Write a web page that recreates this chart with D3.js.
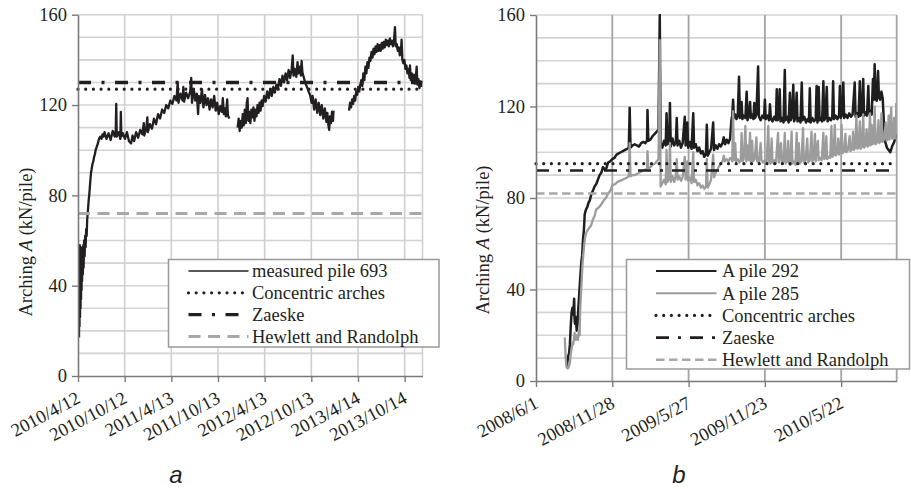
<!DOCTYPE html>
<html><head><meta charset="utf-8">
<script src="https://cdn.jsdelivr.net/npm/d3@7"></script>
<style>
body{margin:0;background:#fff}
svg{display:block}
svg text{font-family:"Liberation Serif","Times New Roman",serif;font-size:18.5px;fill:#231f20}
svg text.sub{font-family:"Liberation Sans",Arial,sans-serif;font-style:italic;font-size:24px}
</style>
</head><body>
<svg id="c" width="911" height="489"></svg>
<script>
// ---------------- DATA ----------------
const yTickValues = [0, 40, 80, 120, 160];

// panel a
const aDomain = ["2010-04-12", "2013-12-23"];
const aTickDates = ["2010-04-12","2010-10-12","2011-04-13","2011-10-13","2012-04-13","2012-10-13","2013-04-14","2013-10-14"];
const aTickLabels = ["2010/4/12","2010/10/12","2011/4/13","2011/10/13","2012/4/13","2012/10/13","2013/4/14","2013/10/14"];
const aSeriesNames = ["measured pile 693"];
const aRefNames = ["Concentric arches", "Zaeske", "Hewlett and Randolph"];
const aRefValues = [127, 130, 72];
// [days since 2010-04-12, arching kN/pile]
const pile693 = [
[4,17],[5,46],[6,22],[7,58],[8,26],[9,52],[10,30],[11,55],[12,34],[13,50],[14,38],[15,57],[16,42],[18,54],[19,45],[21,58],[22,48],[24,60],[26,53],[28,62],[30,57],[32,65],[34,62],[36,69],[38,72],[40,75],[42,78],[44,80],[46,83],[48,86],[51,90],[54,92],[57,94],[60,95],[63,97],[66,98],[69,100],[72,101],[75,102],[78,103],[81,104.5],[84,105.5],[88,106],[92,105],[96,107],[100,106],
[104,108],[112,105],[120,107.5],[128,104.5],[136,108.5],[144,106],[148,109],[150,120.5],[152,106],[160,108],[166,105],[168,117],[170,106],[176,107.5],
[184,105],[192,108],[200,104],[208,103],[214,106.5],[220,104],
[228,108],[236,105.5],[244,109],[252,107],[258,112],[260,106.5],[268,110],[272,114.5],[274,108],[282,111.5],[290,109.5],
[298,114],[306,111.5],[314,116],[322,114],[330,118],[338,116.5],[346,120],[354,118.5],[362,122],
[370,120.5],[378,124],[386,122],[391,130],[394,121],[402,125],[410,122],[413,128],[416,121.5],[424,125.5],[432,123],
[440,126],[444,132],[447,121],[454,127],[460,122],[466,125],[471,116],[474,124],[480,121],[486,127],
[492,119],[498,124.5],[504,120],[510,123],[516,118],[522,122.5],[528,119],[534,124],[540,117.5],
[546,121],[552,116],[558,119.5],[564,117],[568,123],[572,116],[576,118.5],[580,115],[585,122.5],[588,115.5],[593,114],[596,null],
[626,110],[630,114],[634,108.5],[638,113],[642,110],[646,116],[650,111],[654,118],[658,112],[662,121],[665,123],[668,113],[672,117],[676,112],[680,118],[684,114.5],
[688,119],[692,113],[696,118],[700,115],[704,120],[708,116.5],[712,121],[716,117.5],[720,122],[724,119.5],
[730,124],[736,121.5],[742,126],[748,123],[754,127],[760,124],[766,128],[772,125.5],[778,129],
[784,127],[790,131.5],[796,128.5],[802,133],[808,130],[814,134],[820,131],[826,135.5],[832,132],[838,136],[842,142],[845,133],
[850,136],[856,132.5],[861,139],[864,134],[870,137],[874,133],[877,139.5],[880,134.5],
[886,132],[892,129.5],[898,128],[904,126],[910,124.5],[916,121],
[920,124],[926,118],[932,122.5],[938,116.5],[944,121],[950,115.5],[956,120],[962,114],[968,118.5],[974,112.5],
[978,116.5],[982,111],[985,109],[988,115],[992,112],[996,117],[1000,113],[1002,117.5],[1005,null],
[1063,117.5],[1067,121],[1071,119],[1075,122.5],[1079,120.5],[1083,124],[1087,122],[1091,126],[1095,124.5],[1099,128],[1103,126],[1107,129],
[1111,131],[1115,128.5],[1119,134],[1123,131],[1127,137],[1131,134],[1135,139],[1139,136.5],[1143,141],
[1147,139.5],[1151,143.5],[1155,141],[1159,145],[1163,142.5],[1167,146],[1171,143.5],[1175,147],[1179,144],[1183,146.5],[1187,144],[1191,147.5],[1195,145],
[1199,148],[1203,145.5],[1207,149],[1211,146.5],[1215,148.5],[1219,146],[1223,149.5],[1227,147],[1231,148.5],[1235,146],[1239,148],[1243,154.5],[1246,146],[1250,147],
[1254,144],[1258,145.5],[1262,142],[1266,143],[1269,149],[1272,140],[1276,138.5],[1280,140],[1284,136],[1288,137.5],
[1292,134],[1296,136],[1300,132],[1302,137.5],[1305,131],[1309,134],[1313,130],[1317,133.5],[1321,129.5],[1325,132.5],[1328,137],[1331,129],[1335,131.5],[1339,127.5],[1343,130.5],[1347,128]
];

// panel b
const bDomain = ["2008-06-01", "2010-09-30"];
const bTickDates = ["2008-06-01","2008-11-28","2009-05-27","2009-11-23","2010-05-22"];
const bTickLabels = ["2008/6/1","2008/11/28","2009/5/27","2009/11/23","2010/5/22"];
const bSeriesNames = ["A pile 292", "A pile 285"];
const bRefNames = ["Concentric arches", "Zaeske", "Hewlett and Randolph"];
const bRefValues = [95, 92, 82];
// [days since 2008-06-01, arching kN/pile]
const pile292 = [
[71,9],[73,7],[76,11],[78,12],[80,16],[82,24],[84,30],[86,32],[88,29],[90,36],[91,27],[92,25],[94,28],[96,22],[98,25],[100,32],[102,38],[104,44],[107,52],[109,55],[111,62],[113,66],[115,73],[118,75],[121,76],[124,78],[127,79],[131,82],[134,83],[138,85],[142,86],[146,88],[150,90],[154,91],[158,93.5],[162,92.5],[166,93],[170,95.5],[175,96],[180,97],[185,97.5],[190,99],[195,99.5],[200,100],[205,100.5],[210,101],[215,101.5],[219,102],[221,119.5],[223,102],[228,103],[233,103.5],[238,103],[243,102.5],[248,104],[253,104.5],[258,104],[262,105],[263,118.5],[265,105],[270,105.5],[275,107],[280,108],[285,109],[289,110],[292,160],[294,104],
[298,102],[302,105],[306,103],[308,117],[310,103.5],[314,104],[316,121.5],[318,102.5],[322,106],[326,103],[330,104.5],[332,115],[334,103],[338,105],[342,102],[346,104],[351,115.5],[353,103],[357,113],[359,102],[363,104.5],[367,101.5],[371,117],[373,102],[377,103.5],[381,100.5],[385,102],[389,99.5],[393,100.5],[397,98],[401,99.5],[403,112],[405,98.5],[409,100],[413,101.5],[418,113],[420,101],[424,103],[428,101.5],[432,103.5],[436,102.5],[440,104],[443,106.5],[446,103.5],[450,105.5],[454,104],[458,106],
[461,114],[463,116],[465,123],[467,115],[470,116.5],[473,114.5],[476,116],[479,133],[481,115],[483,116.5],[485,122],[487,114.5],[490,116],[494,115],[497,126.5],[499,114],[502,116],[505,122],[507,115],[510,116.5],[513,114.5],[515,121.5],[517,115],[520,116.5],[524,137.5],[526,115.5],[530,114],[534,116],[538,115],[540,123],[542,114.5],[546,116],[550,114],[552,121],[554,115],[558,113.5],[562,115.5],[566,114],[568,127.5],[570,114],[573,115.5],[575,127.5],[577,113.5],[581,115],[584,113],[587,136],[589,114],[593,115.5],[596,113],[599,126],[601,114],[604,115.5],[607,129.5],[609,113.5],[612,115],[615,126],[617,113.5],[621,115],[624,113],[627,130.5],[629,114],[633,115.5],[637,113],[641,114.5],[644,113.5],[646,128],[648,113],[652,115],[656,113.5],[660,114.5],[662,129],[664,113],[667,128.5],[669,114],[673,115],[675,113.5],[678,131],[680,114],[683,115],[686,128.5],[688,113.5],[692,115],[696,114],[699,115.5],[701,131],[703,114.5],[707,116],[711,114.5],[715,116],[717,129],[719,115],[722,116.5],[725,130.5],[727,115],[731,116.5],[735,115],[739,117],[743,115.5],[747,116.5],[752,130.5],[754,115.5],[758,117],[761,115.5],[764,131],[766,116],[769,117.5],[772,132],[774,116],[778,117.5],[781,116],[784,129],[786,117],[789,118],[792,116.5],[795,132],[797,123],[799,138.5],[801,123.5],[804,122.5],[807,135.5],[809,124],[812,123],[815,126.5],[818,123.5],[821,112],[824,104.5],[828,102],[832,101],[836,100],[840,102.5],[845,104.5],[850,108]
];
const pile285 = [
[68,19],[70,10],[72,6],[75,5.5],[77,6],[80,8],[82,12],[84,14],[86,17],[88,16],[91,21],[94,18],[97,20],[99,18],[101,22],[103,20],[104,30],[106,38],[108,45],[110,52],[112,56],[114,60],[116,63],[119,65],[122,66],[126,67],[130,68],[134,70.5],[138,72],[142,75],[146,75.5],[150,76.3],[155,77.5],[160,79],[165,80],[170,82],[175,83],[180,85.5],[186,86],[192,87],[198,87.5],[204,88],[210,88.5],[215,89],[219,89.5],[221,104],[223,89.5],[228,90],[233,90],[238,90.5],[243,91],[248,91.5],[253,92],[258,92.5],[262,92.5],[263,100.5],[265,93],[270,93.5],[275,94.5],[280,95],[285,96],[289,97],[292,149],[294,85],
[298,86.5],[302,88],[306,86],[308,101],[310,87],[314,88.5],[316,104],[318,87],[322,89.5],[326,87],[330,90],[332,97],[334,88],[338,89.5],[342,87.5],[346,89],[351,98],[353,88],[357,96],[359,87.5],[363,89],[367,86.5],[371,100],[373,87],[377,88],[381,85.5],[385,86.5],[389,84.5],[393,85.5],[397,84],[401,85],[403,97],[405,84.5],[409,86],[413,88],[418,99],[420,89],[424,91],[428,92.5],[432,94],[436,95],[440,96],[443,98.5],[446,96],[450,97],[454,96],[458,97.5],
[461,97],[463,96],[465,118],[467,96.5],[470,104],[472,96],[476,97],[480,95.5],[483,96.5],[485,108.5],[487,96],[490,97],[494,111.5],[496,96],[500,103],[502,96.5],[505,108.5],[507,95.5],[510,105],[512,96],[516,97],[520,106.5],[522,96],[526,95.5],[530,104],[532,96.5],[536,95.5],[540,96.5],[544,95],[548,111.5],[550,96],[553,95],[556,106],[558,95.5],[562,96.5],[566,95],[571,108.5],[573,95.5],[578,104],[580,95],[584,96],[587,108.5],[589,95],[592,96],[595,105],[597,95.5],[600,94.5],[603,109],[605,95],[609,96],[612,94.5],[615,108.5],[617,95.5],[620,104],[622,95],[626,96],[630,110.5],[632,95.5],[636,96.5],[640,106],[642,95.5],[646,96.5],[650,109],[652,96],[655,97],[658,108],[660,96],[665,105],[667,96.5],[671,97.5],[674,96.5],[678,108.5],[680,97],[683,98],[685,107],[687,97],[691,98],[694,97.5],[697,111.5],[699,98],[702,99],[705,112],[707,98.5],[711,99.5],[713,106],[715,99],[718,100],[721,112],[723,99.5],[727,100.5],[730,108],[732,100],[736,101],[740,107],[742,100.5],[746,101.5],[748,109],[750,101],[753,102],[756,116],[758,101.5],[761,102],[764,113.5],[766,101.5],[769,102.5],[772,116.5],[774,102],[777,103],[780,110],[782,102.5],[785,103],[788,117],[790,103],[792,112],[794,103.5],[797,104],[799,120],[801,103.5],[805,104.5],[808,114],[810,104],[813,105],[815,117],[817,104.5],[821,105.5],[825,113],[827,105],[830,106],[832,116],[834,105.5],[838,119.5],[840,106],[843,106.5],[845,115],[847,106],[849,107],[850,121.5]
];

// ---------------- DRAWING ----------------
const parse = d3.utcParse("%Y-%m-%d");
const svg = d3.select("#c");

function applyStyle(sel, st) {
  sel.attr("stroke", st.stroke).attr("stroke-width", st.width)
    .attr("stroke-dasharray", st.dash || null).attr("stroke-linecap", st.cap || "butt");
}

function panel(cfg) {
  const g = svg.append("g");
  const t0 = parse(cfg.domain[0]);
  const x = d3.scaleUtc().domain(cfg.domain.map(parse)).range([cfg.left, cfg.right]);
  const y = d3.scaleLinear().domain([0, 160]).range([cfg.bottom, cfg.top]);
  const clipId = "clip" + cfg.id;
  svg.append("clipPath").attr("id", clipId).append("rect")
    .attr("x", cfg.left).attr("y", cfg.top - 1).attr("width", cfg.right - cfg.left).attr("height", cfg.bottom - cfg.top + 1);

  g.append("g").selectAll("line").data(d3.range(10, 161, 10)).join("line")
    .attr("x1", cfg.left).attr("x2", cfg.right)
    .attr("y1", d => y(d)).attr("y2", d => y(d))
    .attr("stroke", cfg.hGrid).attr("stroke-width", 1.6);
  g.append("g").selectAll("line").data(cfg.tickDates.slice(1)).join("line")
    .attr("x1", d => x(parse(d))).attr("x2", d => x(parse(d)))
    .attr("y1", cfg.top).attr("y2", cfg.bottom)
    .attr("stroke", cfg.vGrid).attr("stroke-width", cfg.vGridW);
  g.append("line").attr("x1", cfg.right).attr("x2", cfg.right).attr("y1", cfg.top).attr("y2", cfg.bottom)
    .attr("stroke", cfg.vGrid).attr("stroke-width", cfg.vGridW);

  const line = d3.line()
    .defined(d => d[1] != null)
    .x(d => x(d3.utcDay.offset(t0, d[0])))
    .y(d => y(d[1]));

  const plot = g.append("g").attr("clip-path", `url(#${clipId})`);
  cfg.series.forEach(s => {
    plot.append("path").datum(s.data).attr("d", line)
      .attr("fill", "none").attr("stroke", s.style.stroke).attr("stroke-width", s.style.width)
      .attr("stroke-linejoin", "round");
  });
  cfg.refs.forEach(r => {
    g.append("line").attr("x1", cfg.left).attr("x2", cfg.right)
      .attr("y1", y(r.value)).attr("y2", y(r.value))
      .call(applyStyle, r.style);
  });

  const ya = g.append("g").attr("transform", `translate(${cfg.left},0)`)
    .call(d3.axisLeft(y).tickValues(yTickValues).tickSize(6).tickSizeOuter(0).tickPadding(5).tickFormat(d3.format("d")));
  const xa = g.append("g").attr("transform", `translate(0,${cfg.bottom})`)
    .call(d3.axisBottom(x).tickValues(cfg.tickDates.map(parse)).tickSize(6).tickSizeOuter(0)
      .tickFormat((d, i) => cfg.tickLabels[i]));
  [ya, xa].forEach(a => {
    a.attr("font-family", null).attr("font-size", null);
    a.select(".domain").attr("stroke", "#7a7a7a").attr("stroke-width", 1.6);
    a.selectAll(".tick line").attr("stroke", "#7a7a7a").attr("stroke-width", 1.4);
    a.selectAll("text").attr("fill", null);
  });
  xa.selectAll(".tick text").attr("x", 0).attr("y", 0).attr("dy", null)
    .attr("text-anchor", "end").attr("transform", "translate(3,26) rotate(-28)");

  const yt = g.append("text").attr("transform", `translate(${cfg.yTitleX},${cfg.yTitleY}) rotate(-90)`)
    .attr("text-anchor", "middle").attr("dy", "0.35em");
  yt.append("tspan").text("Arching ");
  yt.append("tspan").attr("font-style", "italic").text("A");
  yt.append("tspan").text(" (kN/pile)");

  const L = cfg.legend;
  const lg = g.append("g");
  lg.append("rect").attr("x", L.x).attr("y", L.y).attr("width", L.w).attr("height", L.h)
    .attr("fill", "#fff").attr("stroke", "#9a9a9a").attr("stroke-width", 1.5);
  L.items.forEach((it, i) => {
    const yy = L.y + L.first + i * L.step;
    lg.append("line").attr("x1", L.lx1).attr("x2", L.lx2).attr("y1", yy).attr("y2", yy).call(applyStyle, it.style);
    lg.append("text").attr("x", L.tx).attr("y", yy).attr("dy", "0.35em").text(it.name);
  });

  g.append("text").attr("class", "sub").attr("x", cfg.subX).attr("y", 483).attr("text-anchor", "middle").text(cfg.sub);
}

// styles
const sBlackA = {stroke: "#231f20", width: 2.3};
const dotA = {stroke: "#231f20", width: 3.2, dash: "0,7.7", cap: "round"};
const zaeA = {stroke: "#231f20", width: 3.4, dash: "13,10.5,3,10.5"};
const hewA = {stroke: "#a8a8a8", width: 3, dash: "12,7.5"};
const sBlackB = {stroke: "#1e1e1e", width: 2.5};
const sGrayB = {stroke: "#9c9c9c", width: 2.3};
const dotB = {stroke: "#231f20", width: 3.2, dash: "0,7.7", cap: "round"};
const zaeB = {stroke: "#231f20", width: 2.6, dash: "13,9,3,9"};
const hewB = {stroke: "#a8a8a8", width: 2.6, dash: "8.5,4.5"};

panel({
  id: "a", left: 78, right: 422.5, top: 14.7, bottom: 376,
  domain: aDomain, tickDates: aTickDates, tickLabels: aTickLabels,
  hGrid: "#d3d3d3", vGrid: "#cfcfcf", vGridW: 1.6,
  series: [{data: pile693, style: sBlackA}],
  refs: [{value: aRefValues[0], style: dotA}, {value: aRefValues[1], style: zaeA}, {value: aRefValues[2], style: hewA}],
  yTitleX: 26, yTitleY: 242,
  legend: {x: 168.5, y: 259.5, w: 270.5, h: 87.5, first: 11.5, step: 21.8, lx1: 188.5, lx2: 248.5, tx: 252,
    items: [{name: aSeriesNames[0], style: {stroke: "#231f20", width: 1.5}}, {name: aRefNames[0], style: dotA},
            {name: aRefNames[1], style: zaeA}, {name: aRefNames[2], style: hewA}]},
  sub: "a", subX: 176
});

panel({
  id: "b", left: 536, right: 896.7, top: 15, bottom: 381,
  domain: bDomain, tickDates: bTickDates, tickLabels: bTickLabels,
  hGrid: "#d3d3d3", vGrid: "#a3a3a3", vGridW: 1.8,
  series: [{data: pile292, style: sBlackB}, {data: pile285, style: sGrayB}],
  refs: [{value: bRefValues[0], style: dotB}, {value: bRefValues[1], style: zaeB}, {value: bRefValues[2], style: hewB}],
  yTitleX: 483, yTitleY: 240,
  legend: {x: 626.5, y: 259.5, w: 283, h: 109.5, first: 11.5, step: 22.2, lx1: 656, lx2: 716.5, tx: 722,
    items: [{name: bSeriesNames[0], style: {stroke: "#1e1e1e", width: 2.2}}, {name: bSeriesNames[1], style: {stroke: "#9c9c9c", width: 2}},
            {name: bRefNames[0], style: dotB}, {name: bRefNames[1], style: zaeB}, {name: bRefNames[2], style: hewB}]},
  sub: "b", subX: 679
});
</script>
</body></html>
